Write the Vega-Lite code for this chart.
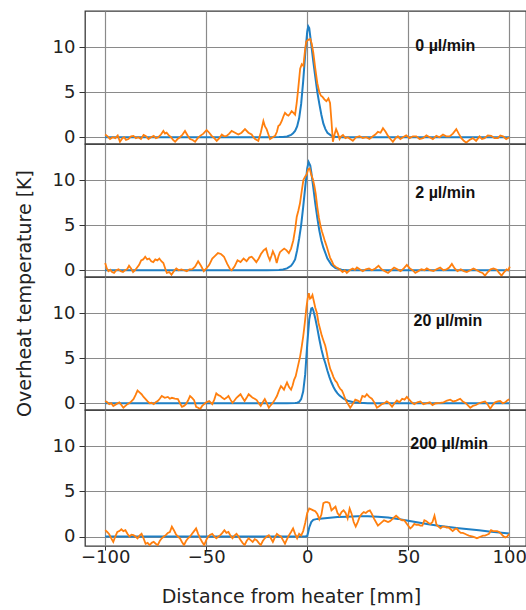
{
  "$schema": "https://vega.github.io/schema/vega-lite/v6.json",
  "autosize": {"type": "pad"},
  "padding": {"left": 14, "top": 10, "right": 0, "bottom": 0},
  "spacing": 0,
  "bounds": "flush",
  "background": "white",
  "config": {
    "font": "DejaVu Sans",
    "view": {"stroke": "#3a3a3a", "strokeWidth": 1.3},
    "axis": {
      "gridColor": "#8a8a8a", "gridWidth": 1.2, "gridOpacity": 1,
      "labelFont": "DejaVu Sans", "labelFontSize": 18, "labelColor": "#222",
      "tickColor": "#333", "domain": false,
      "titleFont": "DejaVu Sans", "titleFontSize": 19, "titleFontWeight": "normal", "titleColor": "#222"
    }
  },
  "datasets": {
    "m0": [{"x":-100,"y":0},{"x":-20,"y":0},{"x":-14,"y":0.02},{"x":-12,"y":0.04},{"x":-10,"y":0.08},{"x":-8,"y":0.25},{"x":-7,"y":0.45},{"x":-6,"y":0.7},{"x":-5,"y":1.2},{"x":-4,"y":2.1},{"x":-3,"y":3.7},{"x":-2,"y":6.2},{"x":-1,"y":9.2},{"x":0,"y":11.7},{"x":0.5,"y":12.3},{"x":1,"y":12.1},{"x":2,"y":10.3},{"x":3,"y":8.4},{"x":4,"y":6.7},{"x":5,"y":5.0},{"x":6,"y":3.7},{"x":7,"y":2.5},{"x":8,"y":1.5},{"x":9,"y":0.9},{"x":10,"y":0.5},{"x":12,"y":0.15},{"x":14,"y":0.05},{"x":17,"y":0},{"x":100,"y":0}],
    "e0": [{"x":-100,"y":0.3},{"x":-98.8,"y":0.1},{"x":-97.6,"y":-0.2},{"x":-96.3,"y":0.0},{"x":-95,"y":-0.1},{"x":-93.8,"y":0.2},{"x":-92.7,"y":-0.5},{"x":-91.5,"y":-0.1},{"x":-90.6,"y":0.0},{"x":-89.7,"y":-0.3},{"x":-88.5,"y":-0.2},{"x":-87.2,"y":0.1},{"x":-86,"y":0.15},{"x":-84.8,"y":-0.1},{"x":-83.6,"y":0.0},{"x":-82.3,"y":-0.2},{"x":-81,"y":0.25},{"x":-79.8,"y":0.1},{"x":-78.6,"y":-0.2},{"x":-77.3,"y":0.0},{"x":-76,"y":0.15},{"x":-74.9,"y":-0.1},{"x":-73.7,"y":0.0},{"x":-72.4,"y":0.3},{"x":-71.2,"y":0.7},{"x":-70.4,"y":0.4},{"x":-69.6,"y":0.5},{"x":-68.5,"y":0.2},{"x":-67.4,"y":0.0},{"x":-66.4,"y":-0.3},{"x":-65.4,"y":-0.5},{"x":-64.2,"y":-0.2},{"x":-63,"y":0.0},{"x":-61.7,"y":0.3},{"x":-60.5,"y":0.7},{"x":-59.2,"y":0.2},{"x":-58,"y":-0.2},{"x":-56.7,"y":-0.3},{"x":-55.5,"y":-0.5},{"x":-54.2,"y":-0.1},{"x":-53,"y":0.15},{"x":-51.4,"y":0.4},{"x":-49.8,"y":0.8},{"x":-48.5,"y":0.5},{"x":-47.3,"y":0.15},{"x":-46,"y":-0.1},{"x":-44.8,"y":-0.4},{"x":-43.5,"y":-0.1},{"x":-42.3,"y":0.3},{"x":-41.1,"y":0.1},{"x":-39.9,"y":0.15},{"x":-38.6,"y":0.4},{"x":-37.4,"y":0.7},{"x":-35.7,"y":0.5},{"x":-34.1,"y":0.3},{"x":-32.5,"y":0.5},{"x":-30.8,"y":0.9},{"x":-29.1,"y":0.5},{"x":-27.5,"y":0.3},{"x":-26.6,"y":0.0},{"x":-25.8,"y":-0.2},{"x":-25,"y":-0.3},{"x":-24.2,"y":-0.4},{"x":-23,"y":0.5},{"x":-21.7,"y":1.8},{"x":-20.9,"y":1.2},{"x":-20.1,"y":0.9},{"x":-19.2,"y":0.3},{"x":-18.4,"y":-0.2},{"x":-17.1,"y":0.0},{"x":-15.9,"y":0.15},{"x":-15,"y":0.6},{"x":-14.3,"y":1.25},{"x":-13.5,"y":1.4},{"x":-12.6,"y":1.8},{"x":-11.8,"y":2.3},{"x":-11,"y":2.7},{"x":-10.1,"y":2.5},{"x":-9.3,"y":2.4},{"x":-8.5,"y":2.6},{"x":-7.7,"y":2.9},{"x":-6.8,"y":2.7},{"x":-6,"y":2.5},{"x":-5.2,"y":3.8},{"x":-4.4,"y":5.5},{"x":-3.5,"y":7.6},{"x":-2.7,"y":8.1},{"x":-1.9,"y":7.9},{"x":-1.1,"y":9.6},{"x":-0.5,"y":10.6},{"x":0.5,"y":10.8},{"x":1.5,"y":10.9},{"x":2.2,"y":10.4},{"x":3,"y":9.4},{"x":4,"y":7.6},{"x":5,"y":6.0},{"x":6,"y":5.0},{"x":6.8,"y":4.6},{"x":7.5,"y":4.5},{"x":8.5,"y":4.2},{"x":9.5,"y":4.0},{"x":10.5,"y":4.3},{"x":11.3,"y":3.8},{"x":12,"y":1.8},{"x":12.7,"y":-0.5},{"x":13.5,"y":0.3},{"x":14.3,"y":0.9},{"x":15.2,"y":0.4},{"x":16,"y":-0.2},{"x":16.8,"y":0.1},{"x":17.7,"y":0.25},{"x":18.9,"y":-0.1},{"x":20.1,"y":0.0},{"x":21.3,"y":-0.2},{"x":22.6,"y":-0.4},{"x":24.2,"y":0.0},{"x":25.9,"y":0.1},{"x":27.5,"y":-0.1},{"x":29.2,"y":0.0},{"x":30.8,"y":-0.2},{"x":32.5,"y":0.1},{"x":33.7,"y":0.3},{"x":35,"y":0.6},{"x":36.3,"y":0.5},{"x":37.5,"y":1.0},{"x":38.8,"y":0.6},{"x":40,"y":0.15},{"x":41.2,"y":-0.2},{"x":42.4,"y":-0.5},{"x":43.7,"y":-0.1},{"x":44.9,"y":0.1},{"x":46.1,"y":-0.2},{"x":47.4,"y":0.0},{"x":49,"y":0.2},{"x":50.7,"y":-0.1},{"x":52.3,"y":0.1},{"x":54,"y":0.1},{"x":55.6,"y":-0.2},{"x":57.3,"y":-0.1},{"x":59,"y":0.2},{"x":60.6,"y":0.0},{"x":62.2,"y":-0.2},{"x":63.9,"y":0.15},{"x":65.5,"y":0.0},{"x":67.2,"y":0.3},{"x":68.8,"y":0.1},{"x":70.5,"y":0.1},{"x":72.1,"y":0.4},{"x":73.8,"y":0.9},{"x":75,"y":0.4},{"x":76.3,"y":-0.1},{"x":77.5,"y":-0.4},{"x":78.7,"y":-0.6},{"x":80.3,"y":-0.3},{"x":82,"y":-0.1},{"x":83.6,"y":-0.4},{"x":85.3,"y":0.1},{"x":86.5,"y":-0.2},{"x":87.8,"y":-0.1},{"x":89.4,"y":0.2},{"x":91.1,"y":0.15},{"x":92.7,"y":-0.1},{"x":94.4,"y":-0.1},{"x":95.6,"y":0.2},{"x":96.9,"y":0.1},{"x":98.5,"y":-0.2},{"x":100,"y":0.0}],
    "m1": [{"x":-100,"y":0},{"x":-20,"y":0},{"x":-14,"y":0.03},{"x":-12,"y":0.08},{"x":-10,"y":0.2},{"x":-8,"y":0.5},{"x":-7,"y":0.8},{"x":-6,"y":1.2},{"x":-5,"y":2.2},{"x":-4,"y":3.5},{"x":-3,"y":5.0},{"x":-2,"y":7.0},{"x":-1,"y":9.2},{"x":0,"y":11.3},{"x":0.7,"y":12.0},{"x":1.5,"y":11.6},{"x":2,"y":10.9},{"x":3,"y":9.2},{"x":4,"y":7.4},{"x":5,"y":5.8},{"x":6,"y":4.4},{"x":7,"y":3.3},{"x":8,"y":2.5},{"x":10,"y":1.3},{"x":12,"y":0.6},{"x":14,"y":0.25},{"x":17,"y":0.05},{"x":20,"y":0},{"x":100,"y":0}],
    "e1": [{"x":-100,"y":0.8},{"x":-99.2,"y":0.2},{"x":-98.4,"y":-0.1},{"x":-97.5,"y":0.05},{"x":-96.6,"y":-0.2},{"x":-95.6,"y":-0.3},{"x":-94.5,"y":0.0},{"x":-93.4,"y":0.1},{"x":-92.3,"y":-0.1},{"x":-91.2,"y":-0.2},{"x":-90.2,"y":0.0},{"x":-89.2,"y":0.1},{"x":-88.2,"y":0.5},{"x":-87.2,"y":0.2},{"x":-86.2,"y":-0.2},{"x":-85.2,"y":0.0},{"x":-84.2,"y":0.3},{"x":-83.2,"y":0.6},{"x":-82.2,"y":1.1},{"x":-81.2,"y":1.2},{"x":-80.2,"y":1.5},{"x":-79.2,"y":1.2},{"x":-78.2,"y":1.3},{"x":-77.2,"y":1.0},{"x":-76.2,"y":0.9},{"x":-75.2,"y":1.2},{"x":-74.2,"y":1.1},{"x":-73.2,"y":1.3},{"x":-72.2,"y":1.0},{"x":-71.2,"y":0.8},{"x":-70.3,"y":0.2},{"x":-69.5,"y":-0.3},{"x":-68.3,"y":-0.2},{"x":-67.2,"y":-0.5},{"x":-66,"y":-0.1},{"x":-64.8,"y":0.2},{"x":-63.6,"y":0.0},{"x":-62.3,"y":0.1},{"x":-61,"y":0.0},{"x":-59.6,"y":-0.1},{"x":-58.3,"y":0.1},{"x":-57,"y":0.1},{"x":-55.5,"y":0.4},{"x":-54,"y":1.0},{"x":-52.6,"y":0.5},{"x":-51.2,"y":-0.1},{"x":-49.9,"y":0.2},{"x":-48.5,"y":0.6},{"x":-47,"y":1.3},{"x":-45.6,"y":1.6},{"x":-44.2,"y":1.9},{"x":-42.7,"y":1.8},{"x":-41.2,"y":1.5},{"x":-39.6,"y":0.7},{"x":-38.1,"y":0.1},{"x":-37.4,"y":0.0},{"x":-36,"y":0.4},{"x":-34.5,"y":1.1},{"x":-33,"y":0.9},{"x":-31.5,"y":1.3},{"x":-30,"y":1.0},{"x":-28.7,"y":1.4},{"x":-27.5,"y":1.5},{"x":-26.3,"y":1.2},{"x":-25.2,"y":0.9},{"x":-24,"y":1.3},{"x":-22.9,"y":1.8},{"x":-21.6,"y":2.2},{"x":-20.4,"y":2.4},{"x":-19.4,"y":1.6},{"x":-18.5,"y":1.1},{"x":-17.7,"y":1.6},{"x":-17,"y":2.1},{"x":-16,"y":1.6},{"x":-15.1,"y":0.8},{"x":-14.3,"y":1.5},{"x":-13.5,"y":2.0},{"x":-12.5,"y":2.2},{"x":-11.4,"y":2.4},{"x":-10.2,"y":2.2},{"x":-9.1,"y":1.9},{"x":-8,"y":2.4},{"x":-6.9,"y":3.3},{"x":-6,"y":4.5},{"x":-5.2,"y":5.9},{"x":-4.4,"y":6.6},{"x":-3.6,"y":7.4},{"x":-2.7,"y":8.8},{"x":-1.9,"y":10.0},{"x":-1,"y":10.4},{"x":-0.3,"y":10.6},{"x":0.5,"y":11.2},{"x":1.2,"y":11.3},{"x":2,"y":10.6},{"x":2.8,"y":10.1},{"x":3.5,"y":9.4},{"x":4.2,"y":8.5},{"x":5,"y":7.0},{"x":5.8,"y":5.8},{"x":6.5,"y":5.0},{"x":7.3,"y":4.3},{"x":8,"y":3.8},{"x":8.8,"y":3.2},{"x":9.7,"y":2.6},{"x":10.5,"y":2.0},{"x":11.3,"y":1.4},{"x":12.2,"y":1.0},{"x":13,"y":0.6},{"x":14,"y":0.4},{"x":15,"y":0.25},{"x":16,"y":0.1},{"x":17.5,"y":-0.2},{"x":18.6,"y":0.0},{"x":19.6,"y":-0.3},{"x":21,"y":0.0},{"x":22.5,"y":0.2},{"x":23.6,"y":0.05},{"x":24.6,"y":0.3},{"x":26,"y":0.1},{"x":27.5,"y":-0.1},{"x":29,"y":0.1},{"x":30.6,"y":0.2},{"x":32,"y":0.0},{"x":33.7,"y":0.2},{"x":35.3,"y":0.5},{"x":36.8,"y":0.1},{"x":38.4,"y":-0.1},{"x":40,"y":-0.3},{"x":41.5,"y":0.0},{"x":43,"y":0.3},{"x":44.6,"y":0.1},{"x":46.2,"y":-0.1},{"x":47.8,"y":0.2},{"x":49.3,"y":0.6},{"x":50.8,"y":0.2},{"x":52.2,"y":0.0},{"x":53.5,"y":-0.3},{"x":55,"y":-0.1},{"x":56.5,"y":0.1},{"x":58,"y":0.0},{"x":59.2,"y":0.2},{"x":60.8,"y":0.0},{"x":62.5,"y":-0.1},{"x":64,"y":0.1},{"x":65.8,"y":0.3},{"x":67.4,"y":0.0},{"x":69,"y":0.1},{"x":70.3,"y":0.3},{"x":71.6,"y":0.7},{"x":73,"y":0.2},{"x":74.4,"y":-0.1},{"x":76,"y":0.1},{"x":77.5,"y":-0.1},{"x":79,"y":-0.2},{"x":80.7,"y":0.0},{"x":82.3,"y":0.2},{"x":84,"y":0.0},{"x":85.5,"y":-0.2},{"x":86.8,"y":-0.3},{"x":88,"y":-0.6},{"x":89.4,"y":-0.2},{"x":90.8,"y":0.1},{"x":92.2,"y":0.2},{"x":93.8,"y":0.05},{"x":95,"y":-0.3},{"x":96.2,"y":-0.6},{"x":97.5,"y":-0.2},{"x":98.7,"y":0.1},{"x":99.5,"y":0.0},{"x":100.3,"y":0.4}],
    "m2": [{"x":-100,"y":0},{"x":-10,"y":0},{"x":-6,"y":0.02},{"x":-5,"y":0.05},{"x":-4,"y":0.15},{"x":-3,"y":0.45},{"x":-2,"y":1.3},{"x":-1,"y":3.2},{"x":0,"y":6.5},{"x":1,"y":9.3},{"x":2,"y":10.5},{"x":2.5,"y":10.55},{"x":3,"y":10.3},{"x":4,"y":9.4},{"x":5,"y":8.3},{"x":6,"y":7.1},{"x":7,"y":6.0},{"x":8,"y":5.1},{"x":9,"y":4.4},{"x":10,"y":3.6},{"x":11,"y":2.9},{"x":12,"y":2.3},{"x":13,"y":1.8},{"x":14,"y":1.4},{"x":15,"y":1.1},{"x":16,"y":0.85},{"x":18,"y":0.5},{"x":20,"y":0.28},{"x":23,"y":0.12},{"x":26,"y":0.05},{"x":30,"y":0.01},{"x":35,"y":0},{"x":100,"y":0}],
    "e2": [{"x":-100,"y":0.25},{"x":-99,"y":0.1},{"x":-98,"y":-0.1},{"x":-97,"y":0.0},{"x":-96,"y":-0.3},{"x":-94.5,"y":-0.1},{"x":-93,"y":0.1},{"x":-92,"y":-0.2},{"x":-91,"y":-0.5},{"x":-90,"y":-0.3},{"x":-89,"y":-0.1},{"x":-87.5,"y":0.1},{"x":-86,"y":0.45},{"x":-85,"y":0.9},{"x":-84,"y":1.4},{"x":-83,"y":1.2},{"x":-82,"y":1.0},{"x":-81,"y":0.7},{"x":-80,"y":0.45},{"x":-79,"y":0.2},{"x":-78,"y":0.0},{"x":-77,"y":0.05},{"x":-76,"y":-0.1},{"x":-75,"y":0.1},{"x":-74,"y":0.25},{"x":-73,"y":0.5},{"x":-72,"y":0.8},{"x":-70.5,"y":0.6},{"x":-69,"y":0.7},{"x":-68,"y":0.5},{"x":-67,"y":0.6},{"x":-65.5,"y":0.5},{"x":-64,"y":0.45},{"x":-63,"y":0.0},{"x":-62,"y":-0.4},{"x":-61,"y":-0.3},{"x":-60,"y":-0.1},{"x":-59,"y":0.3},{"x":-58,"y":0.8},{"x":-57,"y":0.6},{"x":-56,"y":0.35},{"x":-55,"y":-0.4},{"x":-54,"y":-0.5},{"x":-53,"y":-0.65},{"x":-52,"y":-0.3},{"x":-51,"y":-0.1},{"x":-50,"y":0.1},{"x":-48.5,"y":0.25},{"x":-47,"y":-0.1},{"x":-46,"y":0.4},{"x":-45,"y":1.1},{"x":-44,"y":0.9},{"x":-43,"y":0.8},{"x":-42,"y":0.6},{"x":-41,"y":0.45},{"x":-40,"y":0.6},{"x":-39,"y":0.8},{"x":-38,"y":0.4},{"x":-37,"y":0.05},{"x":-36,"y":0.3},{"x":-35,"y":0.6},{"x":-34,"y":0.8},{"x":-33,"y":1.0},{"x":-32,"y":0.6},{"x":-31,"y":0.25},{"x":-30,"y":0.6},{"x":-29,"y":1.0},{"x":-28,"y":0.8},{"x":-27,"y":0.6},{"x":-26,"y":0.5},{"x":-25,"y":0.35},{"x":-24,"y":0.0},{"x":-23,"y":-0.3},{"x":-22,"y":0.1},{"x":-21,"y":0.45},{"x":-20,"y":0.0},{"x":-19,"y":-0.5},{"x":-18,"y":-0.2},{"x":-17,"y":0.05},{"x":-16,"y":0.4},{"x":-15,"y":0.8},{"x":-14,"y":1.4},{"x":-13,"y":1.9},{"x":-12.2,"y":1.7},{"x":-11.5,"y":1.5},{"x":-10.8,"y":1.9},{"x":-10,"y":2.3},{"x":-9,"y":1.8},{"x":-8,"y":1.5},{"x":-7.2,"y":2.0},{"x":-6.5,"y":2.6},{"x":-5.7,"y":3.0},{"x":-5,"y":3.7},{"x":-4.2,"y":4.5},{"x":-3.5,"y":5.2},{"x":-2.7,"y":6.3},{"x":-2,"y":7.4},{"x":-1.5,"y":8.3},{"x":-1,"y":9.3},{"x":-0.4,"y":10.6},{"x":0.2,"y":11.6},{"x":0.8,"y":12.2},{"x":1.4,"y":11.6},{"x":2,"y":11.7},{"x":2.6,"y":12.0},{"x":3.2,"y":11.4},{"x":4,"y":10.6},{"x":4.8,"y":10.0},{"x":5.6,"y":8.9},{"x":6.4,"y":8.2},{"x":7.2,"y":7.5},{"x":8.1,"y":6.9},{"x":8.9,"y":6.4},{"x":9.7,"y":5.6},{"x":10.5,"y":4.6},{"x":11.4,"y":3.8},{"x":12.2,"y":3.4},{"x":13,"y":2.9},{"x":13.9,"y":2.5},{"x":14.7,"y":2.3},{"x":15.5,"y":1.9},{"x":16.3,"y":1.6},{"x":17.2,"y":1.4},{"x":18,"y":1.0},{"x":18.8,"y":0.5},{"x":19.6,"y":0.1},{"x":20.5,"y":-0.2},{"x":21.3,"y":-0.5},{"x":22.5,"y":-0.1},{"x":23.8,"y":0.4},{"x":25,"y":0.3},{"x":26.2,"y":0.1},{"x":27.3,"y":0.8},{"x":28.5,"y":0.7},{"x":29.5,"y":1.0},{"x":30.7,"y":0.7},{"x":32,"y":0.5},{"x":33.2,"y":0.1},{"x":34.5,"y":-0.5},{"x":35.8,"y":-0.3},{"x":37,"y":-0.1},{"x":38.2,"y":0.0},{"x":39.4,"y":0.2},{"x":40.6,"y":0.0},{"x":42,"y":-0.4},{"x":43.2,"y":0.0},{"x":44.4,"y":0.3},{"x":45.6,"y":0.1},{"x":47,"y":0.5},{"x":48.2,"y":0.4},{"x":49.3,"y":0.7},{"x":50.5,"y":0.4},{"x":51.7,"y":0.1},{"x":53,"y":-0.1},{"x":54.5,"y":0.1},{"x":56,"y":0.2},{"x":57.5,"y":-0.1},{"x":59.2,"y":0.0},{"x":60.7,"y":0.1},{"x":62,"y":-0.2},{"x":63.6,"y":0.0},{"x":65.8,"y":0.05},{"x":67.5,"y":0.1},{"x":69.2,"y":0.3},{"x":70.8,"y":0.4},{"x":72.3,"y":0.2},{"x":73.8,"y":0.3},{"x":75.7,"y":0.5},{"x":77,"y":0.2},{"x":78.5,"y":0.0},{"x":79.8,"y":-0.3},{"x":80.7,"y":-0.5},{"x":82,"y":-0.3},{"x":83.5,"y":-0.2},{"x":85,"y":0.0},{"x":86.5,"y":0.1},{"x":88,"y":0.2},{"x":89.2,"y":-0.1},{"x":90.6,"y":-0.6},{"x":91.8,"y":-0.2},{"x":93,"y":0.1},{"x":94.3,"y":0.2},{"x":95.5,"y":0.25},{"x":96.8,"y":0.0},{"x":98,"y":0.1},{"x":99,"y":0.3},{"x":100,"y":0.45}],
    "m3": [{"x":-100,"y":0},{"x":-1,"y":0},{"x":0,"y":0.05},{"x":0.5,"y":0.5},{"x":1,"y":1.0},{"x":2,"y":1.6},{"x":3,"y":1.85},{"x":5,"y":1.95},{"x":10,"y":2.05},{"x":15,"y":2.15},{"x":20,"y":2.2},{"x":25,"y":2.25},{"x":30,"y":2.25},{"x":35,"y":2.2},{"x":40,"y":2.1},{"x":45,"y":1.95},{"x":50,"y":1.75},{"x":55,"y":1.55},{"x":60,"y":1.35},{"x":65,"y":1.2},{"x":70,"y":1.05},{"x":75,"y":0.92},{"x":80,"y":0.8},{"x":85,"y":0.68},{"x":90,"y":0.55},{"x":95,"y":0.44},{"x":100,"y":0.33}],
    "e3": [{"x":-100,"y":0.7},{"x":-99,"y":0.5},{"x":-98,"y":0.25},{"x":-97,"y":-0.2},{"x":-96,"y":-0.6},{"x":-95,"y":0.0},{"x":-94,"y":0.5},{"x":-93,"y":0.6},{"x":-92,"y":0.8},{"x":-91,"y":0.6},{"x":-90,"y":0.7},{"x":-89,"y":0.3},{"x":-88,"y":0.0},{"x":-87,"y":0.2},{"x":-86,"y":0.15},{"x":-85,"y":0.0},{"x":-84,"y":-0.2},{"x":-83,"y":0.1},{"x":-82,"y":0.3},{"x":-81,"y":-0.2},{"x":-80,"y":-0.8},{"x":-79,"y":-0.7},{"x":-78,"y":-0.95},{"x":-77,"y":-0.7},{"x":-76,"y":-0.6},{"x":-75,"y":-0.8},{"x":-74,"y":-0.95},{"x":-73,"y":-0.5},{"x":-72,"y":-0.2},{"x":-71,"y":0.0},{"x":-70,"y":0.15},{"x":-69,"y":0.4},{"x":-68,"y":0.5},{"x":-67,"y":1.1},{"x":-66,"y":0.7},{"x":-65,"y":0.25},{"x":-64,"y":0.0},{"x":-63,"y":-0.2},{"x":-62,"y":-0.6},{"x":-61,"y":-0.95},{"x":-60,"y":-0.5},{"x":-59,"y":-0.2},{"x":-58,"y":0.0},{"x":-57,"y":0.3},{"x":-56,"y":0.6},{"x":-55,"y":0.9},{"x":-54,"y":0.3},{"x":-53,"y":-0.2},{"x":-52,"y":-0.6},{"x":-51,"y":-0.95},{"x":-50,"y":-0.4},{"x":-49,"y":0.0},{"x":-48,"y":0.2},{"x":-47,"y":0.3},{"x":-46,"y":0.0},{"x":-45,"y":-0.2},{"x":-44,"y":0.0},{"x":-43,"y":0.15},{"x":-42,"y":0.4},{"x":-41,"y":0.7},{"x":-40,"y":0.4},{"x":-39,"y":0.5},{"x":-38,"y":0.1},{"x":-37,"y":-0.2},{"x":-36,"y":0.1},{"x":-35,"y":0.3},{"x":-34,"y":0.0},{"x":-33,"y":-0.4},{"x":-32,"y":-0.7},{"x":-31,"y":-0.95},{"x":-30,"y":-0.5},{"x":-29,"y":-0.2},{"x":-28,"y":-0.4},{"x":-27,"y":-0.6},{"x":-26,"y":-0.3},{"x":-25,"y":-0.4},{"x":-24,"y":-0.7},{"x":-23,"y":-0.95},{"x":-22,"y":-0.5},{"x":-21,"y":-0.2},{"x":-20,"y":0.0},{"x":-19,"y":0.15},{"x":-18,"y":-0.2},{"x":-17,"y":-0.6},{"x":-16,"y":-0.1},{"x":-15,"y":0.3},{"x":-14,"y":0.1},{"x":-13,"y":0.0},{"x":-12,"y":-0.4},{"x":-11,"y":-0.8},{"x":-10,"y":-0.3},{"x":-9,"y":0.15},{"x":-8,"y":0.5},{"x":-7,"y":0.9},{"x":-6,"y":0.3},{"x":-5,"y":-0.2},{"x":-4,"y":0.3},{"x":-3,"y":0.1},{"x":-2,"y":0.6},{"x":-1,"y":1.5},{"x":0,"y":2.6},{"x":1,"y":3.1},{"x":2,"y":3.0},{"x":3,"y":2.9},{"x":4,"y":2.8},{"x":5,"y":2.5},{"x":6,"y":1.9},{"x":7,"y":2.4},{"x":8,"y":3.7},{"x":9,"y":3.8},{"x":10,"y":3.8},{"x":11,"y":3.7},{"x":12,"y":2.9},{"x":13,"y":3.1},{"x":14,"y":3.3},{"x":15,"y":2.6},{"x":16,"y":2.3},{"x":17,"y":2.7},{"x":18,"y":2.9},{"x":19,"y":2.6},{"x":20,"y":2.0},{"x":21,"y":3.1},{"x":22,"y":2.5},{"x":23,"y":1.6},{"x":24,"y":1.1},{"x":25,"y":1.6},{"x":26,"y":2.2},{"x":27,"y":2.5},{"x":28,"y":2.7},{"x":29,"y":2.6},{"x":30,"y":2.8},{"x":31,"y":2.9},{"x":32,"y":2.5},{"x":33,"y":2.0},{"x":34,"y":1.6},{"x":35,"y":1.2},{"x":36,"y":1.4},{"x":37,"y":1.6},{"x":38,"y":1.8},{"x":39,"y":1.7},{"x":40,"y":1.6},{"x":41,"y":1.7},{"x":42,"y":1.9},{"x":43,"y":2.1},{"x":44,"y":2.3},{"x":45,"y":2.1},{"x":46,"y":1.9},{"x":47,"y":1.8},{"x":48,"y":1.8},{"x":49,"y":1.5},{"x":50,"y":1.2},{"x":51,"y":0.9},{"x":52,"y":1.1},{"x":53,"y":1.4},{"x":54,"y":1.3},{"x":55,"y":1.3},{"x":56,"y":1.2},{"x":57,"y":1.2},{"x":58,"y":1.8},{"x":59,"y":1.7},{"x":60,"y":1.5},{"x":61,"y":1.4},{"x":62,"y":1.6},{"x":63,"y":2.3},{"x":64,"y":1.3},{"x":65,"y":1.1},{"x":66,"y":0.9},{"x":67,"y":1.1},{"x":68,"y":1.1},{"x":69,"y":1.0},{"x":70,"y":1.0},{"x":71,"y":0.8},{"x":72,"y":0.6},{"x":73,"y":0.8},{"x":74,"y":0.9},{"x":75,"y":0.6},{"x":76,"y":0.4},{"x":77,"y":0.4},{"x":78,"y":0.3},{"x":79,"y":0.2},{"x":80,"y":0.1},{"x":81,"y":0.05},{"x":82,"y":0.0},{"x":83,"y":-0.1},{"x":84,"y":-0.2},{"x":85,"y":-0.1},{"x":86,"y":0.0},{"x":87,"y":0.1},{"x":88,"y":0.1},{"x":89,"y":0.2},{"x":90,"y":0.3},{"x":91,"y":0.7},{"x":92,"y":0.6},{"x":93,"y":0.6},{"x":94,"y":0.6},{"x":95,"y":0.5},{"x":96,"y":0.3},{"x":97,"y":0.05},{"x":98,"y":-0.1},{"x":99,"y":0.0},{"x":100,"y":0.3}]
  },
  "vconcat": [
    {
      "width": 441, "height": 133,
      "layer": [
        {"data": {"name": "m0"}, "mark": {"type": "line", "color": "#1f7fc4", "strokeWidth": 2, "clip": true},
         "encoding": {
           "x": {"field": "x", "type": "quantitative", "scale": {"domain": [-110, 108.3], "nice": false, "zero": false},
                 "axis": {"values": [-100, -50, 0, 50, 100], "labels": false, "ticks": false, "title": null, "grid": true}},
           "y": {"field": "y", "type": "quantitative", "scale": {"domain": [-0.75, 14], "nice": false, "zero": false},
                 "axis": {"values": [0, 5, 10], "title": null, "tickSize": 6, "labelPadding": 4, "grid": true}}}},
        {"data": {"name": "e0"}, "mark": {"type": "line", "color": "#ff7f0e", "strokeWidth": 1.8, "clip": true},
         "encoding": {"x": {"field": "x", "type": "quantitative"}, "y": {"field": "y", "type": "quantitative"}}},
        {"data": {"values": [{"x": 53.5, "y": 10.1, "t": "0 µl/min"}]},
         "mark": {"type": "text", "align": "left", "baseline": "middle", "font": "Liberation Sans", "fontWeight": "bold", "fontSize": 16, "color": "#111"},
         "encoding": {"x": {"field": "x", "type": "quantitative"}, "y": {"field": "y", "type": "quantitative"}, "text": {"field": "t"}}}
      ]
    },
    {
      "width": 441, "height": 133,
      "layer": [
        {"data": {"name": "m1"}, "mark": {"type": "line", "color": "#1f7fc4", "strokeWidth": 2, "clip": true},
         "encoding": {
           "x": {"field": "x", "type": "quantitative", "scale": {"domain": [-110, 108.3], "nice": false, "zero": false},
                 "axis": {"values": [-100, -50, 0, 50, 100], "labels": false, "ticks": false, "title": null, "grid": true}},
           "y": {"field": "y", "type": "quantitative", "scale": {"domain": [-0.75, 14], "nice": false, "zero": false},
                 "axis": {"values": [0, 5, 10], "title": "Overheat temperature [K]", "titleX": -61, "titleY": 149, "titleAngle": 270, "titleAlign": "center", "titleBaseline": "middle", "tickSize": 6, "labelPadding": 4, "grid": true}}}},
        {"data": {"name": "e1"}, "mark": {"type": "line", "color": "#ff7f0e", "strokeWidth": 1.8, "clip": true},
         "encoding": {"x": {"field": "x", "type": "quantitative"}, "y": {"field": "y", "type": "quantitative"}}},
        {"data": {"values": [{"x": 53.5, "y": 8.6, "t": "2 µl/min"}]},
         "mark": {"type": "text", "align": "left", "baseline": "middle", "font": "Liberation Sans", "fontWeight": "bold", "fontSize": 16, "color": "#111"},
         "encoding": {"x": {"field": "x", "type": "quantitative"}, "y": {"field": "y", "type": "quantitative"}, "text": {"field": "t"}}}
      ]
    },
    {
      "width": 441, "height": 133,
      "layer": [
        {"data": {"name": "m2"}, "mark": {"type": "line", "color": "#1f7fc4", "strokeWidth": 2, "clip": true},
         "encoding": {
           "x": {"field": "x", "type": "quantitative", "scale": {"domain": [-110, 108.3], "nice": false, "zero": false},
                 "axis": {"values": [-100, -50, 0, 50, 100], "labels": false, "ticks": false, "title": null, "grid": true}},
           "y": {"field": "y", "type": "quantitative", "scale": {"domain": [-0.75, 14], "nice": false, "zero": false},
                 "axis": {"values": [0, 5, 10], "title": null, "tickSize": 6, "labelPadding": 4, "grid": true}}}},
        {"data": {"name": "e2"}, "mark": {"type": "line", "color": "#ff7f0e", "strokeWidth": 1.8, "clip": true},
         "encoding": {"x": {"field": "x", "type": "quantitative"}, "y": {"field": "y", "type": "quantitative"}}},
        {"data": {"values": [{"x": 52.6, "y": 9.15, "t": "20 µl/min"}]},
         "mark": {"type": "text", "align": "left", "baseline": "middle", "font": "Liberation Sans", "fontWeight": "bold", "fontSize": 16, "color": "#111"},
         "encoding": {"x": {"field": "x", "type": "quantitative"}, "y": {"field": "y", "type": "quantitative"}, "text": {"field": "t"}}}
      ]
    },
    {
      "width": 441, "height": 136,
      "layer": [
        {"data": {"name": "m3"}, "mark": {"type": "line", "color": "#1f7fc4", "strokeWidth": 2, "clip": true},
         "encoding": {
           "x": {"field": "x", "type": "quantitative", "scale": {"domain": [-110, 108.3], "nice": false, "zero": false},
                 "axis": {"values": [-100, -50, 0, 50, 100], "title": "Distance from heater [mm]", "titleX": 206, "titleY": 56, "titleAlign": "center", "titleBaseline": "alphabetic", "tickSize": 4, "labelPadding": -2, "grid": true}},
           "y": {"field": "y", "type": "quantitative", "scale": {"domain": [-1.05, 14], "nice": false, "zero": false},
                 "axis": {"values": [0, 5, 10], "title": null, "tickSize": 6, "labelPadding": 4, "grid": true}}}},
        {"data": {"name": "e3"}, "mark": {"type": "line", "color": "#ff7f0e", "strokeWidth": 1.8, "clip": true},
         "encoding": {"x": {"field": "x", "type": "quantitative"}, "y": {"field": "y", "type": "quantitative"}}},
        {"data": {"values": [{"x": 51, "y": 10.2, "t": "200 µl/min"}]},
         "mark": {"type": "text", "align": "left", "baseline": "middle", "font": "Liberation Sans", "fontWeight": "bold", "fontSize": 16, "color": "#111"},
         "encoding": {"x": {"field": "x", "type": "quantitative"}, "y": {"field": "y", "type": "quantitative"}, "text": {"field": "t"}}}
      ]
    }
  ]
}
